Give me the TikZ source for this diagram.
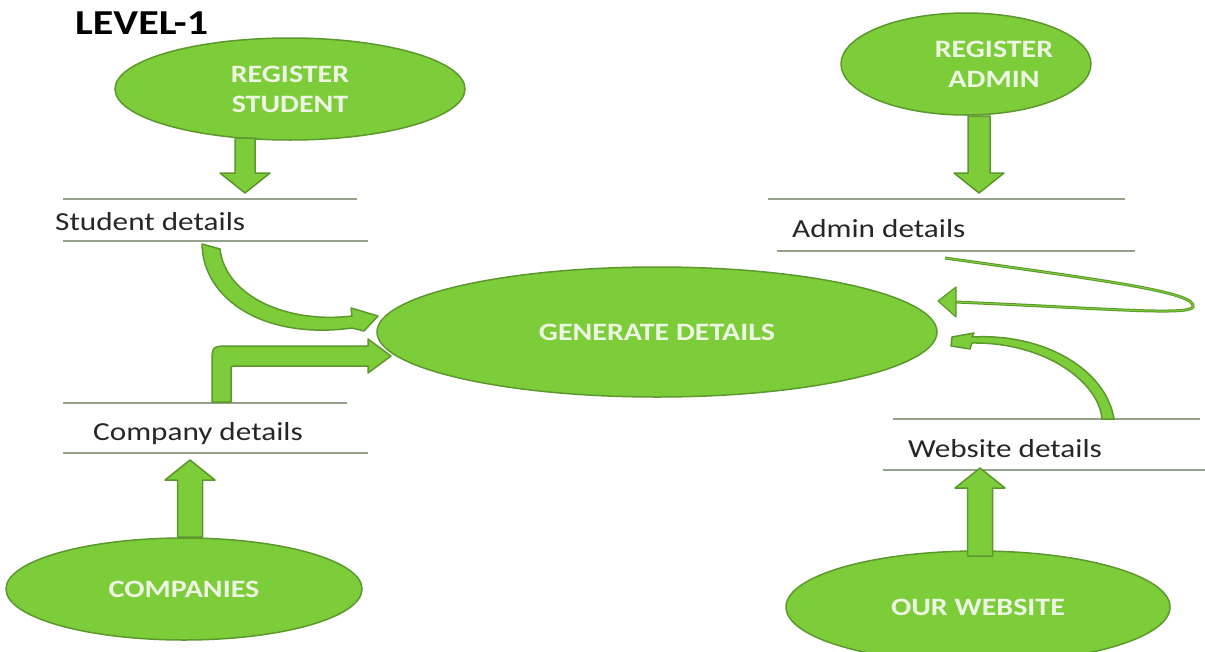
\documentclass[tikz,border=0pt]{standalone}
\usepackage{fontspec}
\setmainfont{Carlito}[FakeStretch=1.2]
\usetikzlibrary{shapes.geometric,calc}
\definecolor{procfill}{RGB}{125,205,58}
\definecolor{procline}{RGB}{92,152,44}
\definecolor{proctext}{RGB}{236,246,226}
\definecolor{storeline}{RGB}{150,163,140}
\newcommand{\fatvert}[3][11pt]{%
  \draw[fatarrow] let \p1=(#2), \p2=(#3), \n1={sign(\y2-\y1)} in
    (\x1-#1,\y1) -- (\x1-#1,{\y2-(\n1)*20pt}) -- (\x1-25pt,{\y2-(\n1)*20pt}) -- (\x1,\y2)
    -- (\x1+25pt,{\y2-(\n1)*20pt}) -- (\x1+#1,{\y2-(\n1)*20pt}) -- (\x1+#1,\y1) -- cycle;}
\begin{document}
\begin{tikzpicture}[x=1pt, y=-1pt,
  proc/.style={ellipse, fill=procfill, draw=procline, line width=1.5pt, inner sep=0pt, proclabel},
  proclabel/.style={text=proctext, font=\fontsize{25}{30}\selectfont\bfseries, align=center},
  store/.style={font=\fontsize{26}{30}\selectfont, text=black!85, anchor=base west, inner sep=0pt},
  storerule/.style={draw=storeline, line width=1.5pt},
  fatarrow/.style={fill=procfill, draw=procline, line width=1.5pt, line join=round},
  backflow/.style={draw=procline, double=procfill, double distance=1pt, line width=1pt}]
\useasboundingbox (0,0) rectangle (1205,651);

\node[anchor=base west, inner sep=0pt, font=\fontsize{35}{40}\selectfont\bfseries] (title) at (75,34) {LEVEL-1};

\node[proc, minimum width=350, minimum height=102] (rs) at (290,89) {REGISTER\\STUDENT};
\node[proc, minimum width=250, minimum height=102,
  label={[proclabel, xshift=28]center:{REGISTER\\ADMIN}}] (ra) at (966,64) {};
\node[proc, minimum width=560, minimum height=130] (gd) at (657,332) {GENERATE DETAILS};
\node[proc, minimum width=356, minimum height=102] (co) at (184,589) {COMPANIES};
\node[proc, minimum width=384, minimum height=112] (ow) at (978,607) {OUR WEBSITE};

\node[store] (sd) at (55,230) {Student details};
\node[store] (ad) at (792,237) {Admin details};
\node[store] (cd) at (93,440) {Company details};
\node[store] (wd) at (908,457) {Website details};

\draw[storerule] (63,199) -- (357,199);
\draw[storerule] (63,241) -- (368,241);
\draw[storerule] (768,199) -- (1125,199);
\draw[storerule] (777,251) -- (1135,251);
\draw[storerule] (63,403) -- (347,403);
\draw[storerule] (63,453) -- (368,453);
\draw[storerule] (893,419) -- (1200,419);
\draw[storerule] (883,470) -- (1205,470);

\coordinate (rsout) at (245,138);
\coordinate (sdin) at (245,193);
\coordinate (raout) at (979,116);
\coordinate (adin) at (979,193);
\coordinate (coout) at (190,537);
\coordinate (cdin) at (190,460);
\coordinate (owout) at (980,556);
\coordinate (wdin) at (980,468);
\fatvert[10pt]{rsout}{sdin}
\fatvert{raout}{adin}
\fatvert[12.5pt]{coout}{cdin}
\fatvert[12.5pt]{owout}{wdin}

\draw[fatarrow] (212,402) -- (212,364) .. controls (212,346) .. (230,346) -- (368,346)
  -- (368,339) -- (391,356) -- (368,373) -- (368,366) -- (236,366) .. controls (231,366) .. (231,371) -- (231,402) -- cycle;

\draw[fatarrow] (202,244) .. controls (203,300) and (265,340) .. (352,328) -- (364,331) -- (378,316)
  -- (351,308) -- (352,316) .. controls (285,324) and (225,295) .. (220,249) -- cycle;

\draw[backflow] (945,258) .. controls (1100,280) and (1198,292) .. (1193,307)
  .. controls (1188,316) and (1100,308) .. (955,302);
\draw[fatarrow, line width=1.2pt] (938,301) -- (956,287) -- (956,317) -- cycle;

\draw[fatarrow] (1102,419) .. controls (1099,382) and (1045,342) .. (972,343) -- (970,349) -- (951,346)
  -- (952,337) -- (974,333) -- (972,337) .. controls (1045,333) and (1106,370) .. (1114,419) -- cycle;
\end{tikzpicture}
\end{document}
